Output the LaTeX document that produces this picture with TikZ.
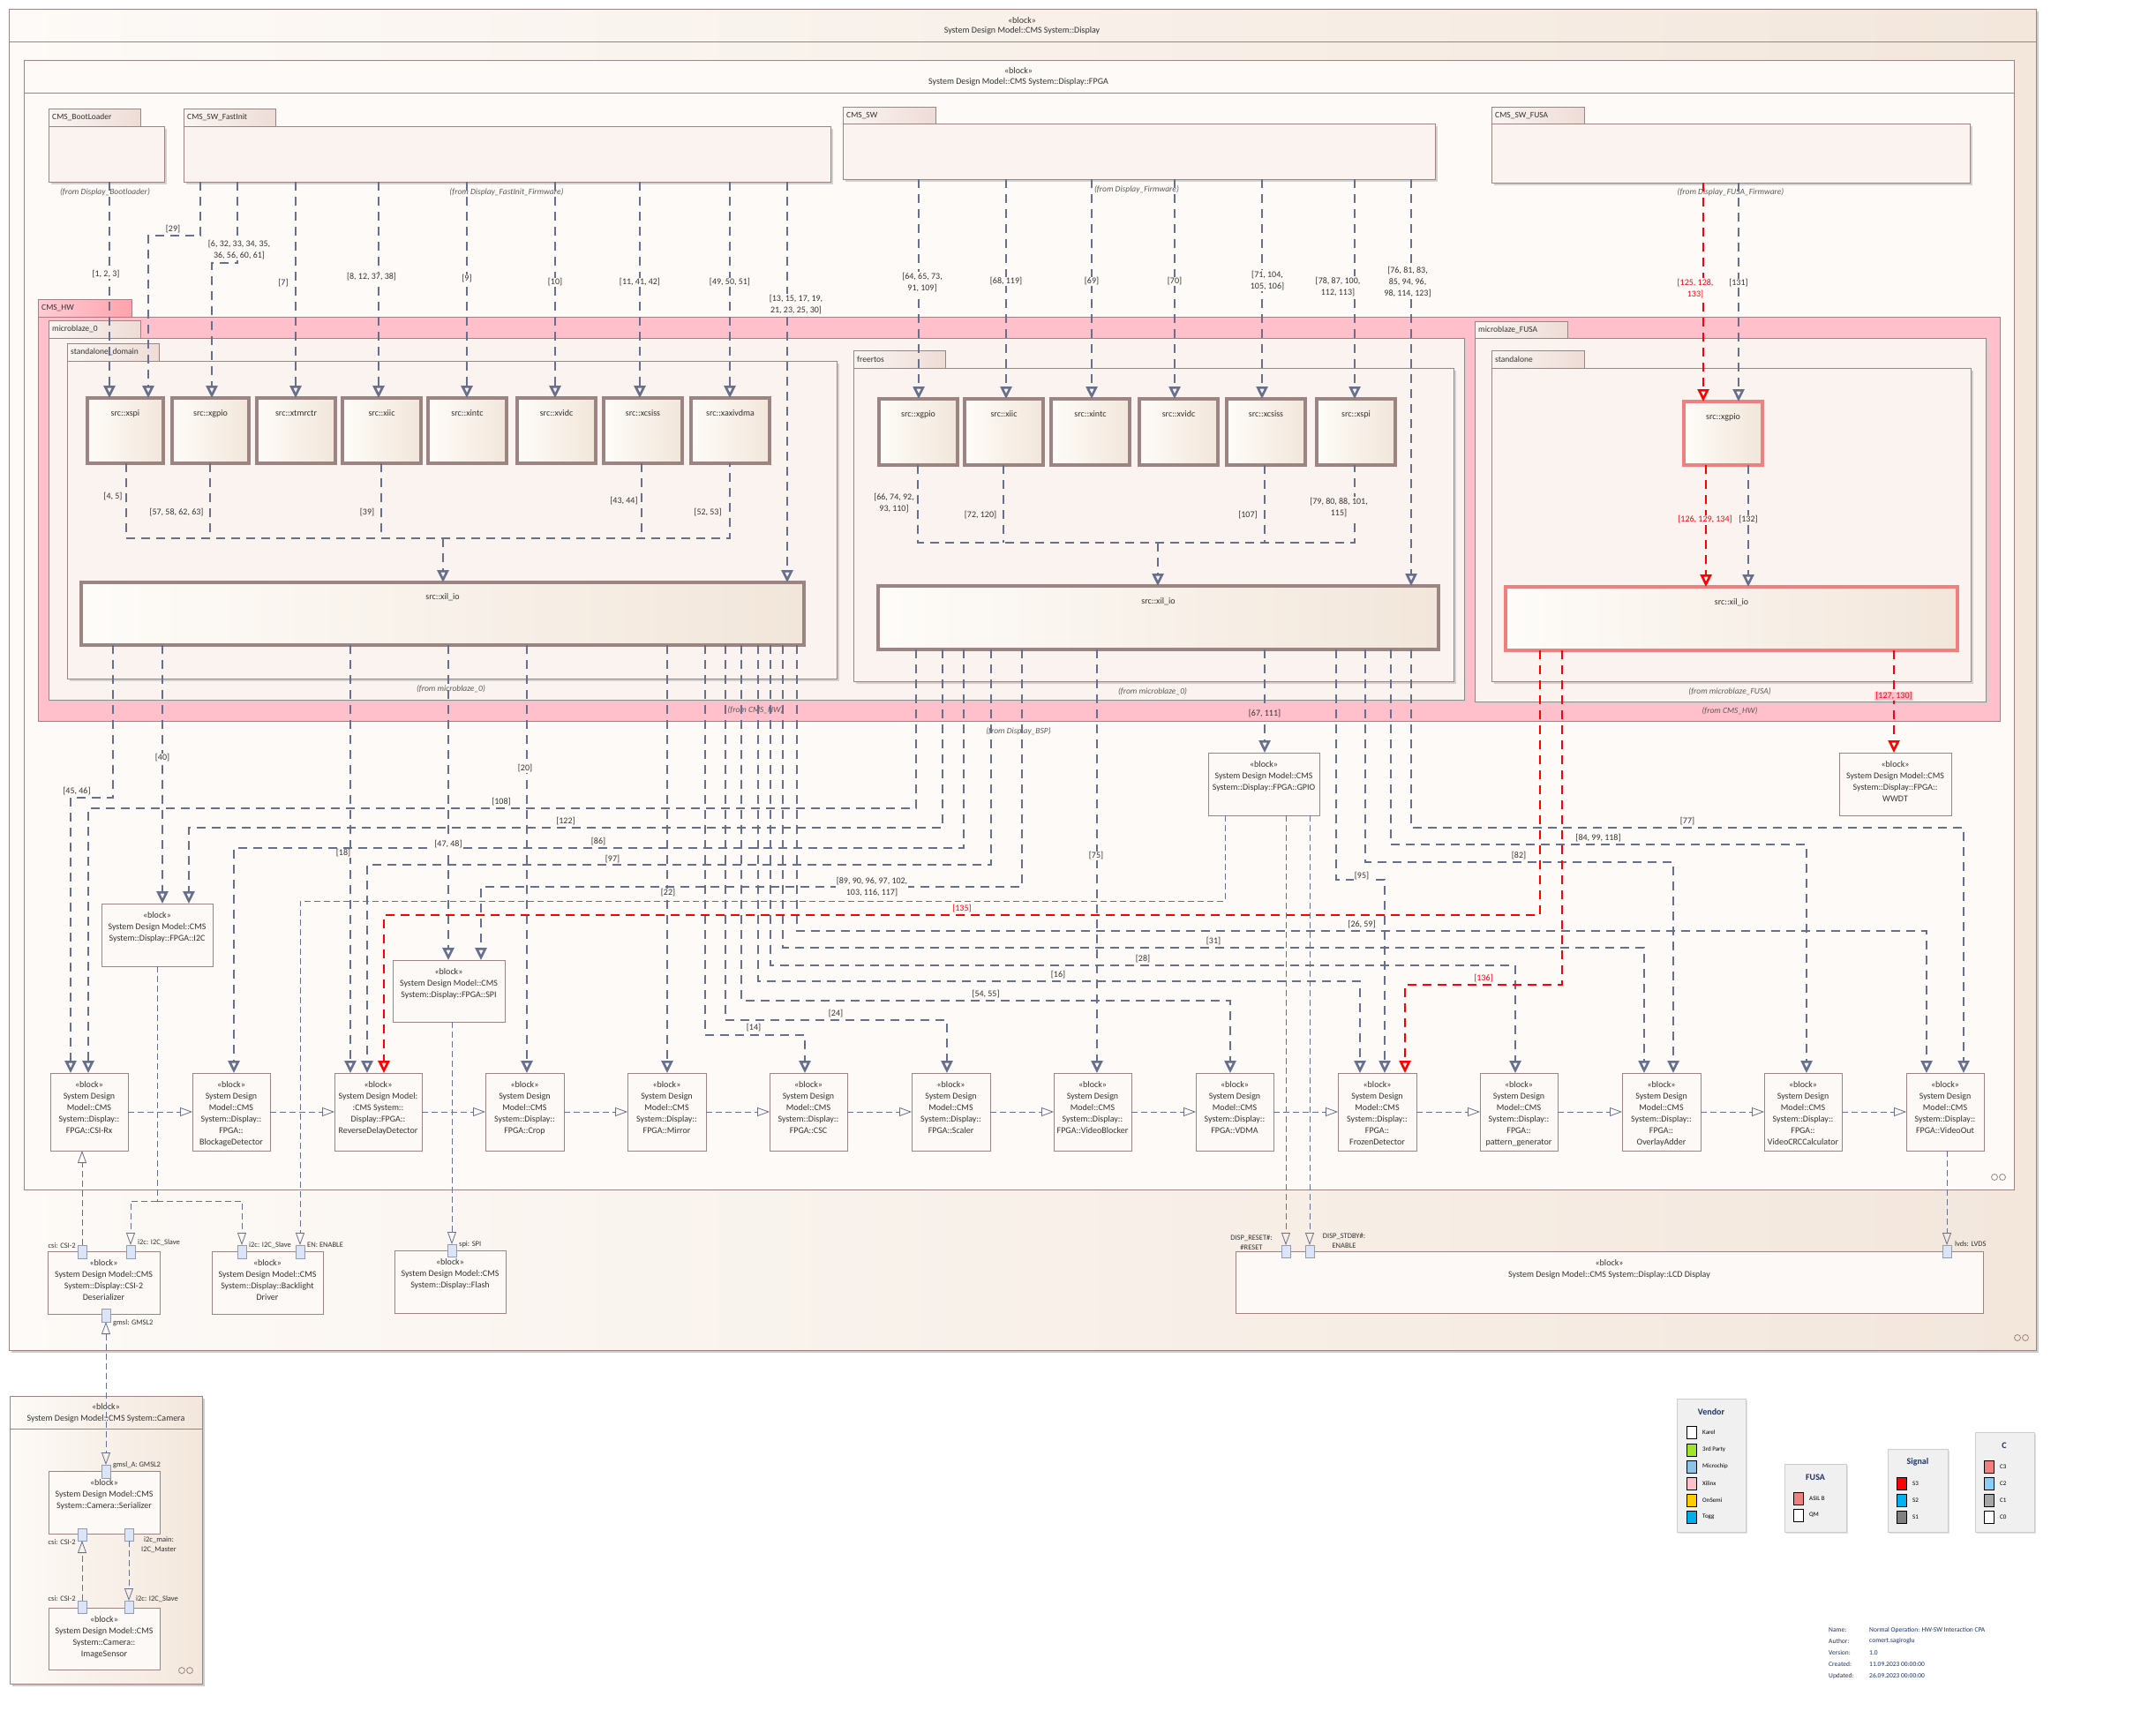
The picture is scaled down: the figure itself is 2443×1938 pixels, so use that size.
\documentclass[tikz,border=0pt]{standalone}
\usepackage{fontspec}
\setmainfont{Carlito}
\usetikzlibrary{arrows.meta,shadows}
\definecolor{conn}{RGB}{102,112,140}
\definecolor{bord}{RGB}{155,132,130}
\definecolor{pinkhw}{RGB}{255,192,203}
\definecolor{pkgfill}{RGB}{250,243,240}
\definecolor{bgL}{RGB}{253,250,247}
\definecolor{bgR}{RGB}{243,231,220}
\definecolor{tabL}{RGB}{250,245,242}
\definecolor{tabR}{RGB}{238,220,214}
\definecolor{fusa}{RGB}{240,128,128}
\definecolor{portfill}{RGB}{218,230,248}
\definecolor{txt}{RGB}{50,50,50}
\definecolor{lblbg}{RGB}{253,250,247}
\definecolor{legbg}{RGB}{240,240,240}
\definecolor{navy}{RGB}{30,50,100}
\definecolor{srcL}{RGB}{254,252,249}
\definecolor{srcR}{RGB}{242,230,218}
\definecolor{blkfill}{RGB}{253,249,246}
\definecolor{vgreen}{RGB}{160,230,40}
\definecolor{vblue}{RGB}{140,196,230}
\definecolor{vgold}{RGB}{255,204,0}
\definecolor{sblue}{RGB}{0,176,240}
\definecolor{cblue}{RGB}{135,206,250}

\newcommand\Bx[7]{\node[#2,anchor=north west,minimum width=#5-#3,minimum height=#6-#4,inner sep=0pt,outer sep=0pt] (#1) at (#3,#4) {#7};}

\tikzset{
  every node/.style={font=\fontsize{10}{13}\selectfont, text=txt},
  outerbox/.style={draw=bord, line width=0.8pt, left color=bgL, right color=bgR, drop shadow={shadow xshift=3pt,shadow yshift=-3pt,fill=black!20,opacity=1}},
  fpgabox/.style={draw=bord, line width=0.8pt, fill=bgL},
  tabbox/.style={draw=bord, line width=0.8pt, left color=tabL, right color=tabR},
  pinktab/.style={draw=bord, line width=0.8pt, left color=pinkhw!80!white, right color=pinkhw!85!red},
  pkgbody/.style={draw=bord, line width=0.8pt, fill=pkgfill, drop shadow={shadow xshift=3pt,shadow yshift=-3pt,fill=black!18,opacity=1}},
  hwbody/.style={draw=bord, line width=0.8pt, fill=pinkhw},
  srcbox/.style={draw=bord, line width=4.5pt, left color=srcL, right color=srcR},
  fsrcbox/.style={draw=fusa, line width=4.5pt, left color=srcL, right color=srcR},
  blk/.style={draw=bord, line width=0.8pt, fill=blkfill},
  port/.style={draw=conn!70, line width=0.6pt, fill=portfill},
  btxt/.style={anchor=north, align=center, inner sep=0pt},
  tabtxt/.style={anchor=west, inner sep=0pt, font=\fontsize{9.5}{11}\selectfont},
  fromtxt/.style={font=\fontsize{9.5}{11}\selectfont\itshape, text=black!65},
  cnbase/.style={line width=2.6pt, dash pattern=on 10pt off 7pt},
  cnl/.style={cnbase, draw=conn},
  cn/.style={cnl, -{Triangle[open,length=14pt,width=13pt]}},
  rcnl/.style={cnbase, draw=red},
  rcn/.style={rcnl, -{Triangle[open,length=14pt,width=13pt]}},
  tn/.style={draw=conn, line width=0.8pt, dash pattern=on 7pt off 4pt},
  tha/.style={-{Triangle[open,length=14pt,width=10pt]}},
  lb/.style={fill=lblbg, inner sep=1pt, align=center},
  lbp/.style={lb, fill=pkgfill},
  rlb/.style={lb, text=red},
  rlbp/.style={lbp, text=red},
  ptxt/.style={font=\fontsize{8.5}{11}\selectfont, inner sep=1pt},
  legbox/.style={draw=black!20, fill=legbg, line width=0.6pt, drop shadow={shadow xshift=2pt,shadow yshift=-2pt,fill=black!12,opacity=1}},
  legtitle/.style={font=\fontsize{10}{12}\selectfont\bfseries, text=navy},
  swatch/.style={draw=black, line width=0.8pt, minimum width=11pt, minimum height=14pt, inner sep=0pt},
  legtxt/.style={font=\fontsize{7}{8}\selectfont, anchor=west, inner sep=0pt, text=black},
  infotxt/.style={font=\fontsize{7.5}{9}\selectfont, anchor=west, inner sep=0pt, text=navy},
}

\begin{document}
\begin{tikzpicture}[x=1pt,y=-1pt]
\useasboundingbox (0,0) rectangle (2443,1938);
\fill[white] (0,0) rectangle (2443,1938);

% ---------------- outer block ----------------
\Bx{outer}{outerbox}{10}{10}{2307}{1530}{}
\draw[bord, line width=0.8pt] (outer.west |- 0,47) -- (outer.east |- 0,47);
\node (outerS) at (1158,23) {«block»};
\node (outerT) at (1158,35) {System Design Model::CMS System::Display};

\Bx{fpga}{fpgabox}{27}{68}{2282}{1348}{}
\draw[bord, line width=0.8pt] (fpga.west |- 0,105) -- (fpga.east |- 0,105);
\node (fpgaS) at (1154,80) {«block»};
\node (fpgaT) at (1154,93) {System Design Model::CMS System::Display::FPGA};

% ---------------- software packages ----------------
\Bx{bootT}{tabbox}{55}{123}{159}{143}{}
\node[tabtxt] at (59,133) {CMS\_BootLoader};
\Bx{boot}{pkgbody}{55}{143}{186}{206}{}
\Bx{fastT}{tabbox}{208}{123}{312}{143}{}
\node[tabtxt] at (212,133) {CMS\_SW\_FastInit};
\Bx{fast}{pkgbody}{208}{143}{941}{206}{}
\Bx{swT}{tabbox}{955}{121}{1060}{140}{}
\node[tabtxt] at (959,131) {CMS\_SW};
\Bx{sw}{pkgbody}{955}{140}{1626}{203}{}
\Bx{fswT}{tabbox}{1690}{121}{1795}{140}{}
\node[tabtxt] at (1694,131) {CMS\_SW\_FUSA};
\Bx{fsw}{pkgbody}{1690}{140}{2232}{207}{}

\node[fromtxt] at (119,218) {(from Display\_Bootloader)};
\node[fromtxt] at (574,218) {(from Display\_FastInit\_Firmware)};
\node[fromtxt] at (1288,215) {(from Display\_Firmware)};
\node[fromtxt] at (1961,218) {(from Display\_FUSA\_Firmware)};

% ---------------- hardware packages ----------------
\Bx{hwT}{pinktab}{43}{339}{149}{359}{}
\node[tabtxt] at (47,349) {CMS\_HW};
\Bx{hw}{hwbody}{43}{359}{2266}{817}{}
\Bx{mb0T}{tabbox}{55}{363}{159}{383}{}
\node[tabtxt] at (59,373) {microblaze\_0};
\Bx{mb0}{pkgbody}{55}{383}{1659}{793}{}
\Bx{sdT}{tabbox}{76}{389}{180}{409}{}
\node[tabtxt] at (80,399) {standalone\_domain};
\Bx{sd}{pkgbody}{76}{409}{948}{769}{}
\Bx{frT}{tabbox}{967}{397}{1071}{417}{}
\node[tabtxt] at (971,407) {freertos};
\Bx{fr}{pkgbody}{967}{417}{1647}{772}{}
\Bx{mbfT}{tabbox}{1671}{364}{1776}{383}{}
\node[tabtxt] at (1675,374) {microblaze\_FUSA};
\Bx{mbf}{pkgbody}{1671}{383}{2250}{795}{}
\Bx{saT}{tabbox}{1690}{397}{1795}{417}{}
\node[tabtxt] at (1694,407) {standalone};
\Bx{sa}{pkgbody}{1690}{417}{2233}{772}{}

\node[fromtxt] at (511,781) {(from microblaze\_0)};
\node[fromtxt] at (1306,784) {(from microblaze\_0)};
\node[fromtxt] at (856,805) {(from CMS\_HW)};
\node[fromtxt] at (1960,784) {(from microblaze\_FUSA)};
\node[fromtxt] at (1960,806) {(from CMS\_HW)};
\node[fromtxt] at (1154,829) {(from Display\_BSP)};

% src boxes
\foreach \nm/\xa/\xb/\lt in {xspi/99/185/xspi,xgpio/195/282/xgpio,xtmrctr/291/380/xtmrctr,xiic/388/477/xiic,xintc/485/574/xintc,xvidc/586/675/xvidc,xcsiss/684/773/xcsiss,xaxivdma/783/872/xaxivdma}{
  \Bx{\nm}{srcbox}{\xa}{451}{\xb}{525}{}
  \node[btxt] at ([yshift=-13.5pt]\nm.north) {src::\lt};
}
\foreach \nm/\xa/\xb/\lt in {rxgpio/996/1085/xgpio,rxiic/1093/1182/xiic,rxintc/1191/1280/xintc,rxvidc/1291/1380/xvidc,rxcsiss/1390/1479/xcsiss,rxspi/1492/1581/xspi}{
  \Bx{\nm}{srcbox}{\xa}{452}{\xb}{527}{}
  \node[btxt] at ([yshift=-13.5pt]\nm.north) {src::\lt};
}
\Bx{fxgpio}{fsrcbox}{1908}{455}{1997}{527}{}
\node[btxt] at ([yshift=-13.5pt]fxgpio.north) {src::xgpio};

\Bx{xilL}{srcbox}{92}{660}{911}{731}{}
\node[btxt] at ([yshift=-12.5pt]xilL.north) {src::xil\_io};
\Bx{xilR}{srcbox}{995}{664}{1630}{736}{}
\node[btxt] at ([yshift=-13pt]xilR.north) {src::xil\_io};
\Bx{xilF}{fsrcbox}{1706}{665}{2218}{737}{}
\node[btxt] at ([yshift=-13.5pt]xilF.north) {src::xil\_io};

% ---------------- FPGA blocks ----------------
\Bx{gpio}{blk}{1369}{853}{1495}{924}{}
\node[btxt] at ([yshift=-9.5pt]gpio.north) {«block»\\System Design Model::CMS\\System::Display::FPGA::GPIO};
\Bx{wwdt}{blk}{2084}{853}{2211}{924}{}
\node[btxt] at ([yshift=-9.5pt]wwdt.north) {«block»\\System Design Model::CMS\\System::Display::FPGA::\\WWDT};
\Bx{i2c}{blk}{115}{1024}{241}{1095}{}
\node[btxt] at ([yshift=-9.5pt]i2c.north) {«block»\\System Design Model::CMS\\System::Display::FPGA::I2C};
\Bx{spi}{blk}{445}{1088}{572}{1158}{}
\node[btxt] at ([yshift=-9pt]spi.north) {«block»\\System Design Model::CMS\\System::Display::FPGA::SPI};

\foreach \nm/\xa/\xb/\lt in {
  csirx/57/145/{System Design\\Model::CMS\\System::Display::\\FPGA::CSI-Rx},
  blockage/218/306/{System Design\\Model::CMS\\System::Display::\\FPGA::\\BlockageDetector},
  revdelay/379/478/{System Design Model:\\:CMS System::\\Display::FPGA::\\ReverseDelayDetector},
  crop/550/639/{System Design\\Model::CMS\\System::Display::\\FPGA::Crop},
  mirror/711/800/{System Design\\Model::CMS\\System::Display::\\FPGA::Mirror},
  csc/872/960/{System Design\\Model::CMS\\System::Display::\\FPGA::CSC},
  scaler/1033/1122/{System Design\\Model::CMS\\System::Display::\\FPGA::Scaler},
  vblock/1194/1282/{System Design\\Model::CMS\\System::Display::\\FPGA::VideoBlocker},
  vdma/1355/1443/{System Design\\Model::CMS\\System::Display::\\FPGA::VDMA},
  frozen/1516/1605/{System Design\\Model::CMS\\System::Display::\\FPGA::\\FrozenDetector},
  patgen/1677/1765/{System Design\\Model::CMS\\System::Display::\\FPGA::\\pattern\_generator},
  overlay/1838/1927/{System Design\\Model::CMS\\System::Display::\\FPGA::\\OverlayAdder},
  vcrc/1999/2087/{System Design\\Model::CMS\\System::Display::\\FPGA::\\VideoCRCCalculator},
  vout/2160/2248/{System Design\\Model::CMS\\System::Display::\\FPGA::VideoOut}}{
  \Bx{\nm}{blk}{\xa}{1216}{\xb}{1304}{}
  \node[btxt] at ([yshift=-9.5pt]\nm.north) {«block»\\\lt};
}

% ---------------- display-level blocks ----------------
\Bx{deser}{blk}{54}{1418}{181}{1489}{}
\node[btxt] at ([yshift=-9.5pt]deser.north) {«block»\\System Design Model::CMS\\System::Display::CSI-2\\Deserializer};
\Bx{backl}{blk}{240}{1418}{366}{1489}{}
\node[btxt] at ([yshift=-9.5pt]backl.north) {«block»\\System Design Model::CMS\\System::Display::Backlight\\Driver};
\Bx{flash}{blk}{447}{1417}{573}{1488}{}
\node[btxt] at ([yshift=-9.5pt]flash.north) {«block»\\System Design Model::CMS\\System::Display::Flash};
\Bx{lcd}{blk}{1400}{1418}{2247}{1488}{}
\node[btxt] at ([yshift=-9.5pt]lcd.north) {«block»\\System Design Model::CMS System::Display::LCD Display};

% camera
\Bx{camera}{outerbox}{11}{1582}{229}{1908}{}
\draw[bord, line width=0.8pt] (camera.west |- 0,1619) -- (camera.east |- 0,1619);
\node (camS) at (120,1594) {«block»};
\node (camT) at (120,1608) {System Design Model::CMS System::Camera};
\Bx{serial}{blk}{55}{1667}{181}{1738}{}
\node[btxt] at ([yshift=-9pt]serial.north) {«block»\\System Design Model::CMS\\System::Camera::Serializer};
\Bx{isens}{blk}{55}{1822}{181}{1892}{}
\node[btxt] at ([yshift=-9pt]isens.north) {«block»\\System Design Model::CMS\\System::Camera::\\ImageSensor};

% ---------------- top connectors ----------------
\draw[cn] (boot.south -| 124,0) -- (xspi.north -| 124,0);
\draw[cn] (fast.south -| 227,0) |- (168,267) -- (xspi.north -| 168,0);
\draw[cn] (fast.south -| 269,0) |- (240,298) -- (xgpio.north -| 240,0);
\foreach \x/\nm in {335/xtmrctr,429/xiic,529/xintc,629/xvidc,725/xcsiss,827/xaxivdma}
  \draw[cn] (fast.south -| \x,0) -- (\nm.north -| \x,0);
\draw[cn] (fast.south -| 892,0) -- (xilL.north -| 892,0);

\draw[cnl] (xspi.south -| 143,0) -- (143,610) -- (827,610) -- (xaxivdma.south -| 827,0);
\foreach \x/\nm in {238/xgpio,432/xiic,727/xcsiss}
  \draw[cnl] (\nm.south -| \x,0) -- (\x,610);
\draw[cn] (502,610) -- (xilL.north -| 502,0);

\foreach \x/\nm in {1041/rxgpio,1140/rxiic,1237/rxintc,1331/rxvidc,1430/rxcsiss,1535/rxspi}
  \draw[cn] (sw.south -| \x,0) -- (\nm.north -| \x,0);
\draw[cn] (sw.south -| 1599,0) -- (xilR.north -| 1599,0);
\draw[cnl] (rxgpio.south -| 1040,0) -- (1040,615) -- (1535,615) -- (rxspi.south -| 1535,0);
\foreach \x/\nm in {1137/rxiic,1433/rxcsiss}
  \draw[cnl] (\nm.south -| \x,0) -- (\x,615);
\draw[cn] (1312,615) -- (xilR.north -| 1312,0);

\draw[rcn] (fsw.south -| 1930,0) -- (fxgpio.north -| 1930,0);
\draw[cn] (fsw.south -| 1970,0) -- (fxgpio.north -| 1970,0);
\draw[rcn] (fxgpio.south -| 1933,0) -- (xilF.north -| 1933,0);
\draw[cn] (fxgpio.south -| 1981,0) -- (xilF.north -| 1981,0);

% ---------------- lower connectors ----------------
\draw[cn] (xilL.south -| 128,0) |- (80,904) -- (csirx.north -| 80,0);
\draw[cn] (xilL.south -| 184,0) -- (i2c.north -| 184,0);
\draw[cn] (xilL.south -| 397,0) -- (revdelay.north -| 397,0);
\draw[cn] (xilL.south -| 508,0) -- (spi.north -| 508,0);
\draw[cn] (xilL.south -| 597,0) -- (crop.north -| 597,0);
\draw[cn] (xilL.south -| 756,0) -- (mirror.north -| 756,0);
\draw[cn] (xilL.south -| 799,0) |- (912,1173) -- (csc.north -| 912,0);
\draw[cn] (xilL.south -| 822,0) |- (1073,1156) -- (scaler.north -| 1073,0);
\draw[cn] (xilL.south -| 840,0) |- (1394,1134) -- (vdma.north -| 1394,0);
\draw[cn] (xilL.south -| 859,0) |- (1541,1112) -- (frozen.north -| 1541,0);
\draw[cn] (xilL.south -| 873,0) |- (1717,1094) -- (patgen.north -| 1717,0);
\draw[cn] (xilL.south -| 887,0) |- (1863,1074) -- (overlay.north -| 1863,0);
\draw[cn] (xilL.south -| 903,0) |- (2183,1055) -- (vout.north -| 2183,0);

\draw[cn] (xilR.south -| 1038,0) |- (100,916) -- (csirx.north -| 100,0);
\draw[cn] (xilR.south -| 1068,0) |- (214,938) -- (i2c.north -| 214,0);
\draw[cn] (xilR.south -| 1092,0) |- (265,961) -- (blockage.north -| 265,0);
\draw[cn] (xilR.south -| 1123,0) |- (416,980) -- (revdelay.north -| 416,0);
\draw[cn] (xilR.south -| 1158,0) |- (545,1005) -- (spi.north -| 545,0);
\draw[cn] (xilR.south -| 1243,0) -- (vblock.north -| 1243,0);
\draw[cn] (xilR.south -| 1433,0) -- (gpio.north -| 1433,0);
\draw[cn] (xilR.south -| 1514,0) |- (1569,997) -- (frozen.north -| 1569,0);
\draw[cn] (xilR.south -| 1547,0) |- (1896,977) -- (overlay.north -| 1896,0);
\draw[cn] (xilR.south -| 1576,0) |- (2047,957) -- (vcrc.north -| 2047,0);
\draw[cn] (xilR.south -| 1599,0) |- (2225,938) -- (vout.north -| 2225,0);

\draw[rcn] (xilF.south -| 1745,0) |- (435,1037) -- (revdelay.north -| 435,0);
\draw[rcn] (xilF.south -| 1770,0) |- (1592,1116) -- (frozen.north -| 1592,0);
\draw[rcn] (xilF.south -| 2146,0) -- (wwdt.north -| 2146,0);

% flows between pipeline blocks
\foreach \a/\b in {csirx/blockage,blockage/revdelay,revdelay/crop,crop/mirror,mirror/csc,csc/scaler,scaler/vblock,vblock/vdma,vdma/frozen,frozen/patgen,patgen/overlay,overlay/vcrc,vcrc/vout}
  \draw[tn,tha] (\a.east |- 0,1260) -- (\b.west |- 0,1260);

% ---------------- ports ----------------
\Bx{pDcsi}{port}{88}{1411}{98}{1426}{}
\Bx{pDi2c}{port}{143}{1411}{153}{1426}{}
\Bx{pDgmsl}{port}{115}{1483}{125}{1498}{}
\Bx{pBi2c}{port}{269}{1411}{279}{1426}{}
\Bx{pBen}{port}{335}{1411}{345}{1426}{}
\Bx{pFspi}{port}{507}{1410}{517}{1424}{}
\Bx{pLrst}{port}{1452}{1411}{1462}{1425}{}
\Bx{pLstb}{port}{1479}{1411}{1489}{1425}{}
\Bx{pLlvds}{port}{2201}{1411}{2211}{1425}{}
\Bx{pSgmsl}{port}{115}{1660}{125}{1675}{}
\Bx{pScsi}{port}{88}{1732}{98}{1746}{}
\Bx{pSi2c}{port}{141}{1732}{151}{1746}{}
\Bx{pIcsi}{port}{88}{1814}{98}{1828}{}
\Bx{pIi2c}{port}{141}{1814}{151}{1828}{}

\node[ptxt, anchor=east] at (87,1412) {csi: CSI-2};
\node[ptxt, anchor=west] at (155,1408) {i2c: I2C\_Slave};
\node[ptxt, anchor=west] at (127,1499) {gmsl: GMSL2};
\node[ptxt, anchor=west] at (281,1411) {i2c: I2C\_Slave};
\node[ptxt, anchor=west] at (347,1411) {EN: ENABLE};
\node[ptxt, anchor=west] at (519,1410) {spi: SPI};
\node[ptxt, align=center] at (1418,1408) {DISP\_RESET\#:\\\#RESET};
\node[ptxt, align=center] at (1523,1406) {DISP\_STDBY\#:\\ENABLE};
\node[ptxt, anchor=west] at (2214,1410) {lvds: LVDS};
\node[ptxt, anchor=west] at (127,1660) {gmsl\_A: GMSL2};
\node[ptxt, anchor=east] at (87,1748) {csi: CSI-2};
\node[ptxt, align=center] at (180,1751) {i2c\_main:\\I2C\_Master};
\node[ptxt, anchor=east] at (87,1812) {csi: CSI-2};
\node[ptxt, anchor=west] at (153,1812) {i2c: I2C\_Slave};

% thin port connectors
\draw[tn,tha] (pDcsi.north) -- (csirx.south -| pDcsi.north);
\draw[tn] (i2c.south) -- (178,1361);
\draw[tn,tha] (178,1361) -| (pDi2c.north);
\draw[tn,tha] (178,1361) -| (pBi2c.north);
\draw[tn,tha] (gpio.south -| 1388,0) |- (340,1021) -- (pBen.north);
\draw[tn,tha] (gpio.south -| 1457,0) -- (pLrst.north);
\draw[tn,tha] (gpio.south -| 1484,0) -- (pLstb.north);
\draw[tn,tha] (spi.south -| 512,0) -- (pFspi.north);
\draw[tn,tha] (vout.south -| 2206,0) -- (pLlvds.north);
\draw[tn,{Triangle[open,length=14pt,width=10pt]}-{Triangle[open,length=14pt,width=10pt]}] (pDgmsl.south) -- (pSgmsl.north);
\draw[tn,tha] (pIcsi.north) -- (pScsi.south);
\draw[tn,tha] (pSi2c.south) -- (pIi2c.north);

% ---------------- connector labels ----------------
\node[lb] at (120,311) {[1, 2, 3]};
\node[lb] at (196,260) {[29]};
\node[lb] at (271,283) {[6, 32, 33, 34, 35,\\36, 56, 60, 61]};
\node[lb] at (321,321) {[7]};
\node[lb] at (421,314) {[8, 12, 37, 38]};
\node[lb] at (529,316) {[9]};
\node[lb] at (629,320) {[10]};
\node[lb] at (725,320) {[11, 41, 42]};
\node[lb] at (827,320) {[49, 50, 51]};
\node[lb] at (902,345) {[13, 15, 17, 19,\\21, 23, 25, 30]};
\node[lb] at (1045,320) {[64, 65, 73,\\91, 109]};
\node[lb] at (1140,319) {[68, 119]};
\node[lb] at (1237,319) {[69]};
\node[lb] at (1331,319) {[70]};
\node[lb] at (1436,318) {[71, 104,\\105, 106]};
\node[lb] at (1516,325) {[78, 87, 100,\\112, 113]};
\node[lb] at (1595,320) {[76, 81, 83,\\85, 94, 96,\\98, 114, 123]};
\node[rlb] at (1921,327) {[125, 128,\\133]};
\node[lb] at (1970,321) {[131]};

\node[lbp] at (128,563) {[4, 5]};
\node[lbp] at (200,581) {[57, 58, 62, 63]};
\node[lbp] at (416,581) {[39]};
\node[lbp] at (707,568) {[43, 44]};
\node[lbp] at (802,581) {[52, 53]};
\node[lbp] at (1013,570) {[66, 74, 92,\\93, 110]};
\node[lbp] at (1111,584) {[72, 120]};
\node[lbp] at (1414,584) {[107]};
\node[lbp] at (1517,575) {[79, 80, 88, 101,\\115]};
\node[rlbp] at (1932,589) {[126, 129, 134]};
\node[lbp] at (1981,589) {[132]};

\node[lb, fill=pinkhw, text=red] at (2146,789) {[127, 130]};
\node[lb, fill=pinkhw] at (1433,809) {[67, 111]};
\node[lb] at (184,859) {[40]};
\node[lb] at (595,871) {[20]};
\node[lb] at (87,897) {[45, 46]};
\node[lb] at (568,909) {[108]};
\node[lb] at (641,931) {[122]};
\node[lb] at (1912,931) {[77]};
\node[lb] at (1811,950) {[84, 99, 118]};
\node[lb] at (678,954) {[86]};
\node[lb] at (508,957) {[47, 48]};
\node[lb] at (389,967) {[18]};
\node[lb] at (1242,970) {[75]};
\node[lb] at (1721,970) {[82]};
\node[lb] at (694,974) {[97]};
\node[lb] at (1543,993) {[95]};
\node[lb] at (988,1005) {[89, 90, 96, 97, 102,\\103, 116, 117]};
\node[lb] at (757,1012) {[22]};
\node[rlb] at (1090,1030) {[135]};
\node[lb] at (1543,1048) {[26, 59]};
\node[lb] at (1375,1067) {[31]};
\node[lb] at (1295,1087) {[28]};
\node[lb] at (1199,1105) {[16]};
\node[rlb] at (1681,1109) {[136]};
\node[lb] at (1117,1127) {[54, 55]};
\node[lb] at (947,1149) {[24]};
\node[lb] at (854,1165) {[14]};

% link icons
\draw[bord, line width=0.8pt] (2260,1334) circle[radius=3.5pt] (2269,1334) circle[radius=3.5pt];
\draw[bord, line width=0.8pt] (2286,1516) circle[radius=3.5pt] (2295,1516) circle[radius=3.5pt];
\draw[bord, line width=0.8pt] (206,1893) circle[radius=3.5pt] (215,1893) circle[radius=3.5pt];

% ---------------- legends ----------------
\Bx{legV}{legbox}{1900}{1585}{1978}{1736}{}
\node[legtitle] at (1939,1600) {Vendor};
\foreach \yy/\cc/\lt in {1623/white/Karel,1643/vgreen/3rd Party,1662/vblue/Microchip,1681/pinkhw/Xilinx,1700/vgold/OnSemi,1719/cyan/Togg}{
  \node[swatch, fill=\cc] (sv\yy) at (1917,\yy) {};
  \node[legtxt] at (1929,\yy) {\lt};
}
\Bx{legF}{legbox}{2022}{1659}{2092}{1736}{}
\node[legtitle] at (2057,1674) {FUSA};
\foreach \yy/\cc/\lt in {1698/fusa/ASIL B,1717/white/QM}{
  \node[swatch, fill=\cc] (sf\yy) at (2038,\yy) {};
  \node[legtxt] at (2050,\yy) {\lt};
}
\Bx{legS}{legbox}{2139}{1642}{2207}{1736}{}
\node[legtitle] at (2173,1657) {Signal};
\foreach \yy/\cc/\lt in {1681/red/S3,1700/sblue/S2,1719/gray/S1}{
  \node[swatch, fill=\cc] (ss\yy) at (2155,\yy) {};
  \node[legtxt] at (2167,\yy) {\lt};
}
\Bx{legC}{legbox}{2238}{1623}{2305}{1736}{}
\node[legtitle] at (2271,1638) {C};
\foreach \yy/\cc/\lt in {1662/fusa/C3,1681/cblue/C2,1700/black!35/C1,1719/white/C0}{
  \node[swatch, fill=\cc] (sc\yy) at (2254,\yy) {};
  \node[legtxt] at (2266,\yy) {\lt};
}

% info
\node[infotxt] at (2072,1847) {Name:};
\node[infotxt] at (2118,1847) {Normal Operation: HW-SW Interaction CPA};
\node[infotxt] at (2072,1860) {Author:};
\node[infotxt] at (2118,1860) {comert.sagiroglu};
\node[infotxt] at (2072,1873) {Version:};
\node[infotxt] at (2118,1873) {1.0};
\node[infotxt] at (2072,1886) {Created:};
\node[infotxt] at (2118,1886) {11.09.2023 00:00:00};
\node[infotxt] at (2072,1899) {Updated:};
\node[infotxt] at (2118,1899) {26.09.2023 00:00:00};

\end{tikzpicture}
\end{document}
